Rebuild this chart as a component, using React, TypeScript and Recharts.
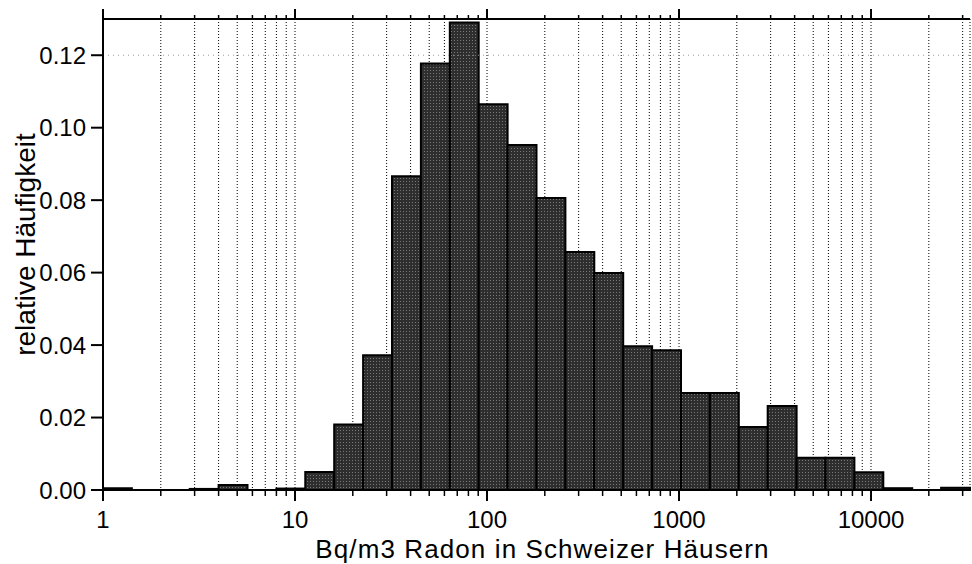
import React from 'react';
import {
  ComposedChart,
  XAxis,
  YAxis,
  CartesianGrid,
  ReferenceArea,
  ReferenceLine,
  Scatter,
  Label,
} from 'recharts';

// bin edges (powers of sqrt 2), Bq/m3
const binEdges = [
  1, 1.414, 2, 2.828, 4, 5.657, 8, 11.31, 16, 22.63, 32, 45.25, 64, 90.51,
  128, 181.0, 256, 362.0, 512, 724.1, 1024, 1448, 2048, 2896, 4096, 5793,
  8192, 11585, 16384, 23170, 32768,
];

// relative frequency per bin
const frequency = [
  0.0005, 0, 0, 0.0003, 0.0014, 0, 0.0004, 0.005, 0.0181, 0.0372, 0.0866,
  0.1177, 0.129, 0.1065, 0.0952, 0.0806, 0.0657, 0.0599, 0.0397, 0.0386,
  0.0268, 0.0268, 0.0174, 0.0232, 0.0089, 0.0089, 0.0049, 0.0005, 0, 0.0006,
];

const xTicks = [
  1, 2, 3, 4, 5, 6, 7, 8, 9, 10, 20, 30, 40, 50, 60, 70, 80, 90, 100, 200,
  300, 400, 500, 600, 700, 800, 900, 1000, 2000, 3000, 4000, 5000, 6000,
  7000, 8000, 9000, 10000, 20000, 30000,
];
const xLabels = [1, 10, 100, 1000, 10000];
const yTicks = [0, 0.02, 0.04, 0.06, 0.08, 0.1, 0.12];

const bins = frequency.map((value, i) => ({
  lo: binEdges[i],
  hi: binEdges[i + 1],
  mid: Math.sqrt(binEdges[i] * binEdges[i + 1]),
  value,
}));

function BottomTick({ x, y, payload }: any) {
  const major = xLabels.includes(payload.value);
  return (
    <g>
      <line
        x1={x}
        x2={x}
        y1={y}
        y2={y + (major ? 11 : 6)}
        stroke="#000"
        strokeWidth={major ? 2 : 1.5}
      />
      {major && (
        <text x={x} y={y + 38} textAnchor="middle" fontSize={24} fill="#000">
          {payload.value}
        </text>
      )}
    </g>
  );
}

function TopTick({ x, y, payload }: any) {
  const major = xLabels.includes(payload.value);
  return (
    <line
      x1={x}
      x2={x}
      y1={y}
      y2={y - (major ? 10 : 4)}
      stroke="#000"
      strokeWidth={major ? 2 : 1.5}
    />
  );
}

function XTitle({ viewBox }: any) {
  return (
    <text
      x={viewBox.x + viewBox.width / 2 + 6}
      y={viewBox.y + 68}
      textAnchor="middle"
      fontSize={26}
      letterSpacing={1.1}
      fill="#000"
    >
      Bq/m3 Radon in Schweizer Häusern
    </text>
  );
}

function YTitle({ viewBox }: any) {
  const cx = 35;
  const cy = viewBox.y + viewBox.height / 2 - 10;
  return (
    <text
      x={cx}
      y={cy}
      transform={`rotate(-90, ${cx}, ${cy})`}
      textAnchor="middle"
      fontSize={28}
      fill="#000"
    >
      relative Häufigkeit
    </text>
  );
}

export default function App() {
  return (
    <div
      style={{
        position: 'absolute',
        left: 0,
        top: 0,
        background: '#fff',
        fontFamily: '"Liberation Sans", Arial, sans-serif',
      }}
    >
      <svg width={0} height={0} style={{ position: 'absolute' }}>
        <defs>
          <pattern id="halftone" width={3} height={3} patternUnits="userSpaceOnUse">
            <rect width={3} height={3} fill="#2e2e2e" />
            <rect x={1} y={1} width={1} height={1} fill="#787878" />
          </pattern>
        </defs>
      </svg>
      <ComposedChart
        width={972}
        height={564}
        data={bins}
        margin={{ top: 0, right: 2, bottom: 0, left: 0 }}
      >
        <CartesianGrid
          xAxisId="bottom"
          horizontal={false}
          stroke="#000"
          strokeDasharray="1 2"
        />
        <XAxis
          xAxisId="top"
          orientation="top"
          dataKey="mid"
          type="number"
          scale="log"
          domain={[1, 32768]}
          allowDataOverflow
          ticks={xTicks}
          height={19}
          tickSize={0}
          tickMargin={0}
          tickLine={false}
          tick={<TopTick />}
          interval={0}
          axisLine={{ stroke: '#000', strokeWidth: 2 }}
        />
        <XAxis
          xAxisId="bottom"
          dataKey="mid"
          type="number"
          scale="log"
          domain={[1, 32768]}
          allowDataOverflow
          ticks={xTicks}
          height={74}
          tickSize={0}
          tickMargin={0}
          tickLine={false}
          tick={<BottomTick />}
          interval={0}
          axisLine={{ stroke: '#000', strokeWidth: 2 }}
        >
          <Label content={<XTitle />} />
        </XAxis>
        <YAxis
          type="number"
          domain={[0, 0.13]}
          ticks={yTicks}
          width={103}
          tickSize={12}
          tickMargin={5}
          tickFormatter={(v: number) => v.toFixed(2)}
          tick={{ fontSize: 24, fill: '#000' }}
          tickLine={{ stroke: '#000', strokeWidth: 2 }}
          axisLine={{ stroke: '#000', strokeWidth: 2 }}
          allowDataOverflow
        >
          <Label content={<YTitle />} />
        </YAxis>
        <ReferenceLine
          xAxisId="bottom"
          y={0.12}
          stroke="#999"
          strokeDasharray="1 4"
        />
        {bins
          .filter((b) => b.value > 0)
          .map((b) => (
            <ReferenceArea
              key={b.lo}
              xAxisId="bottom"
              x1={b.lo}
              x2={b.hi}
              y1={0}
              y2={b.value}
              fill="url(#halftone)"
              fillOpacity={1}
              stroke="#000"
              strokeWidth={2}
              ifOverflow="visible"
            />
          ))}
        <Scatter
          xAxisId="bottom"
          dataKey="value"
          shape={() => <g />}
          isAnimationActive={false}
        />
      </ComposedChart>
    </div>
  );
}
